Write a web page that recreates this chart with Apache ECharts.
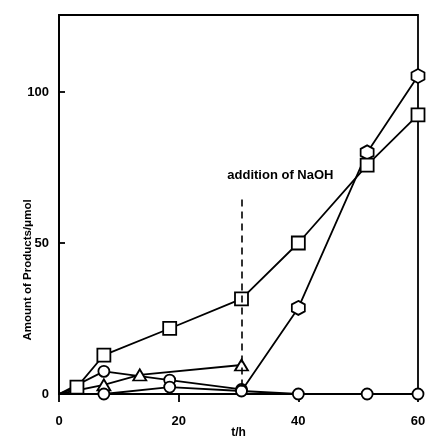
<!DOCTYPE html>
<html>
<head>
<meta charset="utf-8">
<script src="https://cdn.jsdelivr.net/npm/echarts@6/dist/echarts.min.js"></script>
<style>html,body{margin:0;padding:0;background:#fff;}#c{width:426px;height:439px;}</style>
</head>
<body>
<div id="c"></div>
<script>
// Data (t in h, amount in µmol)
var squares   = [[0,0],[3,2.3],[7.5,12.9],[18.5,21.7],[30.5,31.5],[40,50],[51.5,75.8],[60,92.4]];
var hexagons  = [[30.5,1],[40,28.5],[51.5,80],[60,105.3]];
var circlesLow = [[0,0],[7.5,0],[18.5,2.3],[30.5,1],[40,0],[51.5,0],[60,0]];
var circlesUp  = [[0,0],[7.5,7.5],[18.5,4.6],[30.5,1.5]];
var triangles  = [[0,0],[7.5,3],[13.5,6.3],[30.5,9.6]];
var naohTime = 30.5, naohTop = 65;
var xTicks = [0,20,40,60];
var yTicks = [0,50,100];

var FONT = "'Liberation Sans', Arial, sans-serif";
var NARROW = "'Liberation Sans Narrow', 'Liberation Sans', Arial, sans-serif";
var hexPath = 'path://M0,-10 L8.66,-5 L8.66,5 L0,10 L-8.66,5 L-8.66,-5 Z';
var mk = {color:'#fff', borderColor:'#000', borderWidth:1.8};
var ln = {color:'#000', width:1.8};

function firstNoSymbol(arr){
  return arr.map(function(p,i){
    return i===0 ? {value:p, symbol:'none'} : {value:p};
  });
}

var chart = echarts.init(document.getElementById('c'));
chart.setOption({
  animation:false,
  backgroundColor:'#fff',
  grid:{left:59, right:8, top:15, bottom:45, containLabel:false, outerBoundsMode:'none',
    show:true, borderColor:'#000', borderWidth:1.8, backgroundColor:'transparent'},
  xAxis:{
    type:'value', min:0, max:60, interval:20,
    name:'t/h', nameLocation:'middle', nameGap:33, nameMoveOverlap:false,
    nameTextStyle:{fontFamily:FONT, fontWeight:'bold', fontSize:12, color:'#000'},
    axisLine:{show:true, lineStyle:{color:'#000', width:1.8}},
    axisTick:{show:true, inside:false, length:8, lineStyle:{color:'#000', width:1.8}},
    axisLabel:{fontFamily:FONT, fontWeight:'bold', fontSize:13, color:'#000', margin:21,
      formatter:function(v){return xTicks.indexOf(v)>=0 ? String(v) : '';}},
    splitLine:{show:false}
  },
  yAxis:{
    type:'value', min:0, max:125.5, interval:50,
    axisLine:{show:true, lineStyle:{color:'#000', width:1.8}},
    axisTick:{show:true, inside:true, length:6, lineStyle:{color:'#000', width:1.8}},
    axisLabel:{fontFamily:FONT, fontWeight:'bold', fontSize:13, color:'#000', margin:10,
      formatter:function(v){return yTicks.indexOf(v)>=0 ? String(v) : '';}},
    splitLine:{show:false}
  },
  graphic:[{
    type:'text', x:28, y:270, rotation:Math.PI/2,
    style:{text:'Amount of Products/\u03bcmol', fontFamily:NARROW, fontWeight:'bold', fontSize:11.5,
      fill:'#000', textAlign:'center', textVerticalAlign:'middle'}
  }],
  series:[
    {type:'line', data:firstNoSymbol(triangles), symbol:'triangle', symbolSize:[13,11],
     lineStyle:ln, itemStyle:mk, z:3},
    {type:'line', data:firstNoSymbol(circlesUp), symbol:'circle', symbolSize:11,
     lineStyle:ln, itemStyle:mk, z:3},
    {type:'line', data:firstNoSymbol(circlesLow), symbol:'circle', symbolSize:11,
     lineStyle:ln, itemStyle:mk, z:3},
    {type:'line', data:firstNoSymbol(hexagons), symbol:hexPath, symbolSize:[13,14],
     lineStyle:ln, itemStyle:mk, z:3},
    {type:'line', data:firstNoSymbol(squares), symbol:'rect', symbolSize:13,
     lineStyle:ln, itemStyle:mk, z:4,
     markLine:{silent:true, symbol:['none','none'], label:{show:false},
       lineStyle:{color:'#000', width:1.6, type:[7,5]},
       data:[[{coord:[naohTime,2.5]},{coord:[naohTime,naohTop]}]]},
     markPoint:{silent:true, symbol:'rect', symbolSize:0,
       label:{show:true, formatter:'addition of NaOH', fontFamily:FONT, fontWeight:'bold', fontSize:13, color:'#000', position:'inside'},
       data:[{coord:[37,72.5]}]}
    }
  ]
});
</script>
</body>
</html>
